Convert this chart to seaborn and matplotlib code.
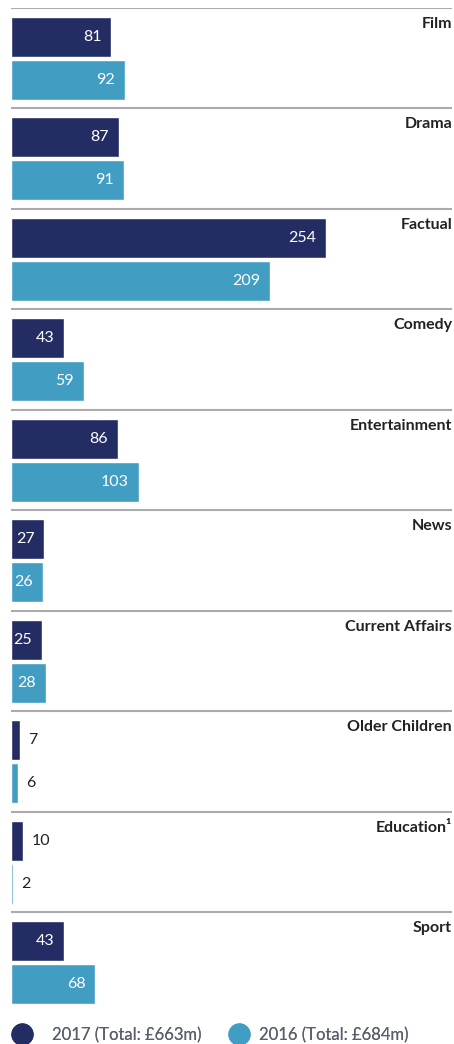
import numpy as np
import pandas as pd
import matplotlib
matplotlib.use('Agg')
import matplotlib.pyplot as plt
from matplotlib.lines import Line2D
import seaborn as sns

categories = ['Film', 'Drama', 'Factual', 'Comedy', 'Entertainment', 'News',
              'Current Affairs', 'Older Children', 'Education\u00b9', 'Sport']
values_2017 = [81, 87, 254, 43, 86, 27, 25, 7, 10, 43]
values_2016 = [92, 91, 209, 59, 103, 26, 28, 6, 2, 68]
years = ['2017', '2016']
legend_labels = ['2017 (Total: \u00a3663m)', '2016 (Total: \u00a3684m)']

dark = '#232d63'
light = '#429dc3'

sns.set_style('white')
plt.rcParams['font.family'] = ['Lato', 'DejaVu Sans']

df = pd.DataFrame({
    'category': categories * 2,
    'year': ['2017'] * len(categories) + ['2016'] * len(categories),
    'value': values_2017 + values_2016,
})

fig = plt.figure(figsize=(4.54, 10.44), dpi=100)
W, H = 454, 1044
ax = fig.add_axes([11 / W, 1 - 1013 / H, 441 / W, 1005 / H])

sns.barplot(data=df, y='category', x='value', hue='year', hue_order=years,
            order=categories, palette=[dark, light], width=0.86, gap=0.07,
            orient='h', legend=False, ax=ax, saturation=1)

ax.set_xlim(0, 441 / 1.24)
ax.set_ylim(len(categories) - 0.5, -0.5)
ax.set_xlabel('')
ax.set_ylabel('')
ax.set_xticks([])
ax.set_yticks([])
for s in ax.spines.values():
    s.set_visible(False)

# separator lines + category titles
for i, cat in enumerate(categories):
    ax.axhline(i - 0.5, color='#ababab', lw=1.5, zorder=0)
    ax.text(1.0, i - 0.5 + 0.155, cat, transform=ax.get_yaxis_transform(),
            ha='right', va='center', fontsize=11.5, fontweight='bold',
            color='#222222')

# value labels
pad = 10 / 1.24
for cont in ax.containers:
    for p in cont:
        v = p.get_width()
        yc = p.get_y() + p.get_height() / 2
        if v >= 20:
            ax.text(v - pad, yc, f'{v:.0f}', ha='right', va='center',
                    fontsize=11.5, color='white')
        else:
            ax.text(v + 8 / 1.24, yc, f'{v:.0f}', ha='left', va='center',
                    fontsize=11.5, color='#222222')

# legend: two separate entries, placed like the original
leg_x = [10.5, 227.5]
leg_pad = [1.1, 0.5]
for c, lab, x0, tp in zip([dark, light], legend_labels, leg_x, leg_pad):
    h = Line2D([], [], ls='', marker='o', markersize=15, color=c)
    lg = fig.legend([h], [lab], loc='center left',
                    bbox_to_anchor=(x0 / W, 1 - 1035 / H), frameon=False,
                    fontsize=12, labelcolor='#5a5f6b', handlelength=1.4,
                    handletextpad=tp, borderpad=0, borderaxespad=0)
    fig.add_artist(lg)

fig.savefig('out.png', dpi=100)
